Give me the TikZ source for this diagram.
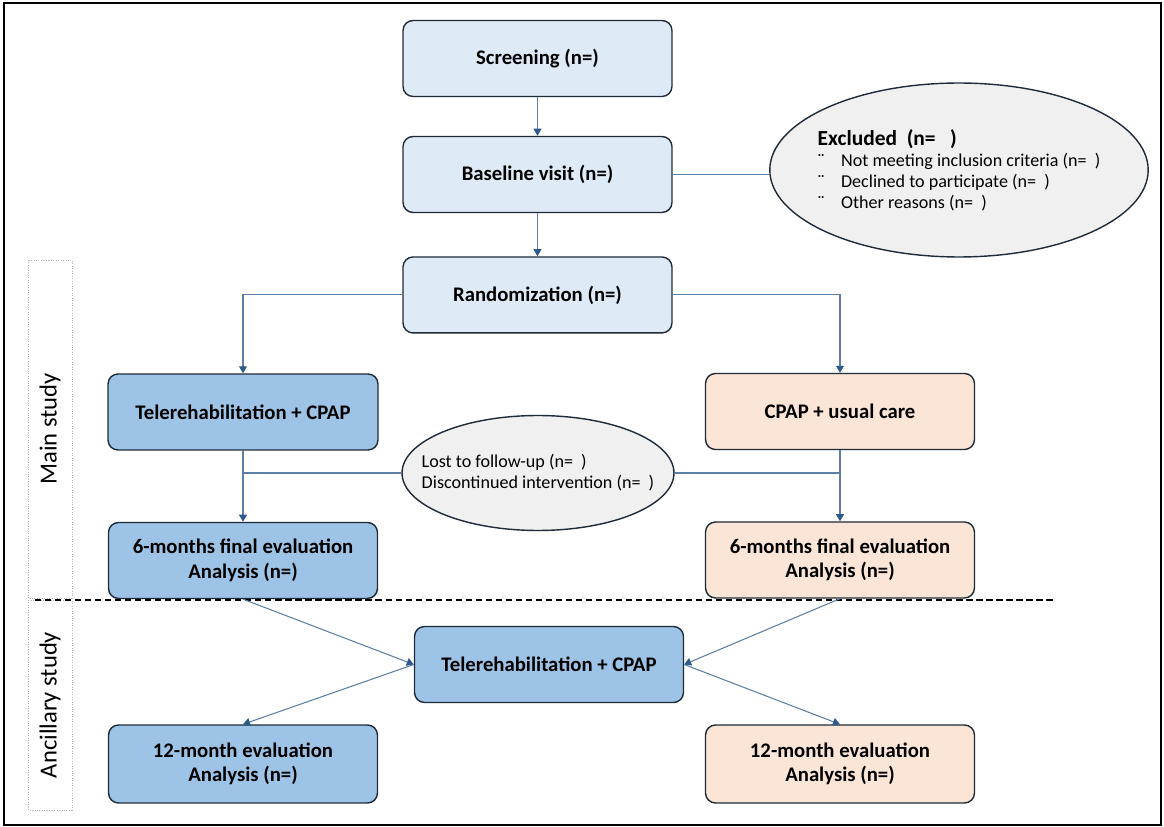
\documentclass[tikz,border=0pt]{standalone}
\usepackage{fontspec}
\setmainfont{Carlito}
\usepackage{tikz}
\usetikzlibrary{positioning}
\usetikzlibrary{arrows.meta,arrows,shapes.geometric}
\definecolor{paleblue}{HTML}{DEEBF7}
\definecolor{midblue}{HTML}{9DC3E6}
\definecolor{peach}{HTML}{FBE5D6}
\definecolor{ovalgray}{HTML}{F0F0F0}
\definecolor{edge}{HTML}{1F2B38}
\definecolor{linkblue}{HTML}{5B7FA5}
\definecolor{tipblue}{HTML}{2C5A8A}

\begin{document}
\begin{tikzpicture}[x=0.02cm, y=-0.02cm, node distance={2.36cm},
  main/.style={rectangle, rounded corners=0.2cm, draw=edge, line width=0.8pt, minimum width=5.38cm, minimum height=1.52cm, align=center, font=\fontsize{11.8}{14}\selectfont\bfseries},
  oval/.style={ellipse, draw=edge, line width=0.8pt, fill=ovalgray, align=left, font=\fontsize{10.3}{12}\selectfont},
  side/.style={draw=gray!60, densely dotted, rotate=90, minimum height=0.88cm, font=\fontsize{14}{16}\selectfont},
  ln/.style={draw=linkblue, line width=0.6pt},
  ar/.style={ln, -{Triangle[width=4.5pt,length=4pt,color=tipblue]}}]
  \useasboundingbox (0,0) rectangle (1164,827);
  \draw[line width=1.4pt] (4,3) rectangle (1161,825);

  \node[main, fill=paleblue] (1) at (537.5,58.5) {Screening (n=)};
  \node[main, fill=paleblue] (2) [node distance=2.32cm, below of=1] {Baseline visit (n=)};
  \node[main, fill=paleblue] (3) [node distance=2.41cm, below of=2] {Randomization (n=)};
  \node[oval, inner xsep=-0.15cm, minimum width=7.44cm, minimum height=3.48cm] (4) at (959,170) {{\fontsize{12.2}{15}\selectfont\bfseries Excluded\ \ (n=\ \ \ )}\\
    ¨\hspace{0.9em}Not meeting inclusion criteria (n=\ \ )\\
    ¨\hspace{0.9em}Declined to participate (n=\ \ )\\
    ¨\hspace{0.9em}Other reasons (n=\ \ )};
  \node[main, fill=midblue, minimum width=5.4cm] (5) at (243,412) {Telerehabilitation + CPAP};
  \node[main, fill=peach] (6) at (840,411.5) {CPAP + usual care};
  \node[oval, inner xsep=-0.41cm, minimum width=5.44cm, minimum height=2.3cm] (7) at (538,473) {Lost to follow-up (n=\ \ )\\Discontinued intervention (n=\ \ )};
  \node[main, fill=midblue] (8) [node distance=2.97cm, below of=5] {6-months final evaluation\\Analysis (n=)};
  \node[main, fill=peach] (9) [node distance=2.97cm, below of=6] {6-months final evaluation\\Analysis (n=)};
  \node[main, fill=midblue] (10) at (549,664.5) {Telerehabilitation + CPAP};
  \node[main, fill=midblue, minimum height=1.56cm] (11) at (243,764) {12-month evaluation\\Analysis (n=)};
  \node[main, fill=peach, minimum height=1.56cm] (12) at (840,764) {12-month evaluation\\Analysis (n=)};

  \node[side, minimum width=6.76cm] (13) at (50,429) {Main study};
  \node[side, minimum width=4.2cm] (14) at (50,705) {Ancillary study};

  \coordinate (d1) at (35,600);
  \coordinate (d2) at (1053,600);
  \draw[line width=1.1pt, dash pattern=on 3.5pt off 2.2pt] (d1) -- (d2);

  \draw[ar] (1) -- (2);
  \draw[ar] (2) -- (3);
  \draw[ln] (2.east) -- (2.east -| 4.west);
  \draw[ar] (3.west) -| (5.north);
  \draw[ar] (3.east) -| (6.north);
  \draw[ar] (5) -- (8);
  \draw[ar] (6) -- (9);
  \draw[ln] (7.west) -- (7.west -| 5);
  \draw[ln] (7.east) -- (7.east -| 6);
  \draw[ar] (8.south) -- (10.west);
  \draw[ar] (9.south) -- (10.east);
  \draw[ar] (10.west) -- (11.north);
  \draw[ar] (10.east) -- (12.north);
\end{tikzpicture}
\end{document}
